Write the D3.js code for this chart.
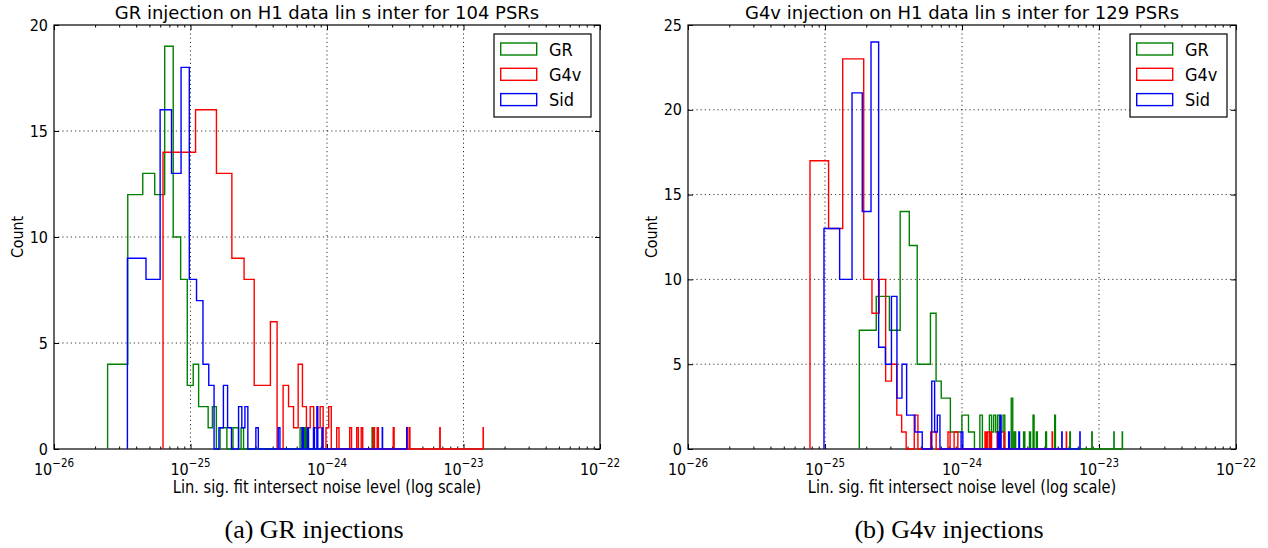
<!DOCTYPE html>
<html><head><meta charset="utf-8">
<script src="https://cdn.jsdelivr.net/npm/d3@7"></script>
<style>body{margin:0;background:#fff} svg{display:block;font-family:"DejaVu Sans",sans-serif}</style>
</head><body>
<svg id="chart" width="1268" height="548"></svg>
<script>
// ---------- DATA (bin edges in units of 1e-26, counts per bin) ----------
const UNIT = 1e-26;
const seriesNames = ["GR", "G4v", "Sid"];
const seriesColors = ["#008000", "#ff0000", "#0000ff"];
const titles = ["GR injection on H1 data lin s inter for 104 PSRs", "G4v injection on H1 data lin s inter for 129 PSRs"];
const captions = ["(a) GR injections", "(b) G4v injections"];
const xLabel = "Lin. sig. fit intersect noise level (log scale)";
const yLabel = "Count";
const xMajorExps = [-26, -25, -24, -23, -22];
const yTicksA = [0, 5, 10, 15, 20];
const yTicksB = [0, 5, 10, 15, 20, 25];

// panel (a): GR injections
const aGR_edges = [2.47, 3.47, 4.47, 5.47, 6.47, 7.47, 8.47, 9.47, 10.47, 11.47, 12.47, 13.47, 14.47, 15.47, 16.47, 17.47, 18.47, 19.47, 20.47, 21.47, 22.47, 23.47, 24.47, 63.5, 64.5, 65.5, 66.5, 67.5, 68.5, 69.5, 70.5, 214, 215];
const aGR_counts = [4, 12, 13, 12, 19, 10, 8, 3, 4, 2, 2, 1, 2, 0, 1, 1, 0, 0, 1, 1, 0, 1, 0, 1, 1, 0, 1, 1, 0, 1, 0, 1];
const aG4v_edges = [6.29, 10.89, 15.49, 20.09, 24.69, 29.29, 33.89, 38.49, 43.09, 47.69, 52.29, 56.89, 61.49, 66.09, 70.69, 75.29, 79.89, 84.49, 89.09, 93.69, 98.29, 102.89, 107.49, 117.8, 122.4, 146.7, 151.3, 165.1, 169.7, 178.1, 182.7, 218.2, 222.8, 233.3, 237.9, 305.7, 310.3, 384.0, 388.6, 400.5, 405.1, 670.4, 675.0, 1392.4, 1397.0];
const aG4v_counts = [14, 16, 13, 9, 8, 3, 3, 6, 0, 3, 2, 1, 4, 2, 1, 2, 1, 1, 2, 0, 1, 2, 0, 1, 0, 1, 0, 1, 0, 1, 0, 1, 0, 1, 0, 1, 0, 1, 0, 1, 0, 1, 0, 1];
const aSid_edges = [3.45, 4.72, 5.99, 7.26, 8.53, 9.80, 11.07, 12.34, 13.61, 14.88, 16.15, 17.42, 18.69, 19.96, 22.50, 23.77, 25.04, 26.31, 30.12, 31.39, 43.9, 45.2, 65.8, 67.1, 71.9, 73.2, 79.6, 80.9, 84.3, 85.6, 91.8, 93.1, 254.0, 255.3, 383.5, 384.8];
const aSid_counts = [9, 8, 16, 13, 18, 8, 7, 4, 3, 0, 1, 3, 1, 0, 2, 1, 2, 0, 1, 0, 1, 0, 1, 0, 1, 0, 1, 0, 2, 0, 1, 0, 1, 0, 1];

// panel (b): G4v injections
const bGR_edges = [17.8, 23.66, 29.52, 35.38, 41.24, 47.1, 52.96, 58.82, 64.68, 70.54, 76.4, 82.26, 88.12, 93.98, 99.84, 105.7, 111.56, 117.42, 123.28, 135.0, 140.86, 158.44, 164.3, 170.16, 176.02, 181.88, 187.74, 193.6, 199.46, 205.32, 228.76, 234.62, 240.48, 246.34, 281.5, 287.36, 310.8, 316.66, 330.0, 335.86, 349.0, 354.86, 408.0, 413.86, 475.0, 480.86, 612.0, 617.86, 886.0, 891.86, 1284.0, 1289.86, 1478.1, 1483.96];
const bGR_counts = [7, 9, 7, 14, 12, 5, 5, 8, 4, 3, 3, 1, 1, 1, 2, 2, 1, 1, 0, 2, 0, 2, 1, 2, 1, 2, 1, 1, 2, 0, 3, 0, 1, 0, 1, 0, 1, 0, 2, 0, 1, 0, 1, 0, 2, 0, 1, 0, 1, 0, 1, 0, 1];
const bG4v_edges = [7.77, 10.62, 13.47, 16.32, 19.17, 22.02, 24.87, 27.72, 30.57, 33.42, 36.27, 39.12, 44.82, 47.67, 59.07, 64.77, 79.02, 81.87, 87.57, 93.27, 147.2, 150.05, 152.9, 158.6, 161.45, 164.3, 180.5, 183.35, 202.0, 204.85, 455.0, 457.85, 577.0, 579.85];
const bG4v_counts = [17, 13, 23, 23, 10, 8, 10, 4, 5, 2, 1, 0, 2, 0, 1, 0, 1, 0, 1, 0, 1, 0, 1, 0, 1, 0, 1, 0, 1, 0, 1, 0, 1];
const bSid_edges = [9.83, 12.79, 15.75, 18.71, 21.67, 24.63, 27.59, 30.55, 33.51, 36.47, 39.43, 42.39, 45.35, 48.31, 51.27, 60.15, 63.11, 66.07, 69.03, 98.5, 101.46, 183.0, 185.96, 190.0, 192.96, 219.0, 221.96, 260.0, 262.96, 535.0, 537.96, 725.0, 727.96];
const bSid_counts = [13, 10, 21, 14, 24, 6, 5, 9, 3, 5, 2, 2, 1, 1, 0, 4, 1, 2, 0, 1, 0, 1, 0, 2, 0, 1, 0, 1, 0, 1, 0, 1];

// ---------- LAYOUT ----------
const panels = [
  { x0: 54, x1: 600, y0: 25, y1: 449, ymax: 20, yTicks: yTicksA, title: titles[0], caption: captions[0],
    series: [[aGR_edges, aGR_counts], [aG4v_edges, aG4v_counts], [aSid_edges, aSid_counts]] },
  { x0: 688, x1: 1236, y0: 25, y1: 449, ymax: 25, yTicks: yTicksB, title: titles[1], caption: captions[1],
    series: [[bGR_edges, bGR_counts], [bG4v_edges, bG4v_counts], [bSid_edges, bSid_counts]] }
];

const svg = d3.select("#chart");
svg.append("rect").attr("width", 1268).attr("height", 548).attr("fill", "#fff");

function txt(g, x, y, s, size, anchor, sx, extra) {
  const t = g.append("text").attr("transform", `translate(${x},${y}) scale(${sx},1)`)
    .attr("font-size", size).attr("text-anchor", anchor).attr("fill", "#000").text(s);
  if (extra) extra(t);
  return t;
}

panels.forEach(p => {
  const g = svg.append("g");
  const x = d3.scaleLog().domain([1e-26, 1e-22]).range([p.x0, p.x1]);
  const y = d3.scaleLinear().domain([0, p.ymax]).range([p.y1, p.y0]);
  const majors = xMajorExps.map(e => Math.pow(10, e));
  const minors = x.ticks().filter(v => !majors.some(m => Math.abs(v / m - 1) < 1e-6));

  // grid
  g.append("g").selectAll("line").data(majors.slice(1, -1)).join("line")
    .attr("x1", d => x(d)).attr("x2", d => x(d)).attr("y1", p.y0).attr("y2", p.y1)
    .attr("stroke", "#000").attr("stroke-width", 0.8).attr("stroke-dasharray", "1.2,3");
  g.append("g").selectAll("line").data(p.yTicks.slice(1, -1)).join("line")
    .attr("y1", d => y(d)).attr("y2", d => y(d)).attr("x1", p.x0).attr("x2", p.x1)
    .attr("stroke", "#000").attr("stroke-width", 0.8).attr("stroke-dasharray", "1.2,3");

  // ticks (inward, all four sides)
  const tick = (axis, tx, ty) => {
    const a = g.append("g").attr("transform", `translate(${tx},${ty})`).call(axis);
    a.select(".domain").remove();
    a.selectAll("text").remove();
    a.selectAll("line").attr("stroke", "#000").attr("stroke-width", 1);
  };
  tick(d3.axisBottom(x).tickValues(majors).tickSize(-5).tickSizeOuter(0), 0, p.y1);
  tick(d3.axisBottom(x).tickValues(minors).tickSize(-2.5).tickSizeOuter(0), 0, p.y1);
  tick(d3.axisTop(x).tickValues(majors).tickSize(-5).tickSizeOuter(0), 0, p.y0);
  tick(d3.axisTop(x).tickValues(minors).tickSize(-2.5).tickSizeOuter(0), 0, p.y0);
  tick(d3.axisLeft(y).tickValues(p.yTicks).tickSize(-5).tickSizeOuter(0), p.x0, 0);
  tick(d3.axisRight(y).tickValues(p.yTicks).tickSize(-5).tickSizeOuter(0), p.x1, 0);

  // frame
  g.append("rect").attr("x", p.x0).attr("y", p.y0).attr("width", p.x1 - p.x0).attr("height", p.y1 - p.y0)
    .attr("fill", "none").attr("stroke", "#000").attr("stroke-width", 1.2);

  // histograms (step outlines)
  p.series.forEach(([edges, counts], i) => {
    const pts = [[x(edges[0] * UNIT), y(0)]];
    counts.forEach((c, k) => {
      pts.push([x(edges[k] * UNIT), y(c)]);
      pts.push([x(edges[k + 1] * UNIT), y(c)]);
    });
    pts.push([x(edges[edges.length - 1] * UNIT), y(0)]);
    g.append("path").attr("d", d3.line()(pts)).attr("fill", "none")
      .attr("stroke", seriesColors[i]).attr("stroke-width", 1.4).attr("stroke-linejoin", "miter");
  });

  // y tick labels
  p.yTicks.forEach(v => txt(g, p.x0 - 6, y(v) + 5.5, String(v), 16, "end", 0.9));
  // x tick labels 10^e
  xMajorExps.forEach(e => {
    const t = g.append("text").attr("transform", `translate(${x(Math.pow(10, e))},${p.y1 + 26}) scale(0.9,1)`)
      .attr("text-anchor", "middle").attr("font-size", 16).attr("fill", "#000");
    t.append("tspan").text("10");
    t.append("tspan").attr("dy", -8).attr("font-size", 11.5).text("\u2212" + Math.abs(e));
  });

  // labels
  const cx = (p.x0 + p.x1) / 2;
  txt(g, cx, 19, p.title, 18, "middle", 1.0);
  txt(g, cx, p.y1 + 44, xLabel, 17, "middle", 0.86);
  g.append("text").attr("transform", `translate(${p.x0 - 31},${(p.y0 + p.y1) / 2}) rotate(-90) scale(0.95,1)`)
    .attr("text-anchor", "middle").attr("font-size", 15).attr("fill", "#000").text(yLabel);
  txt(g, cx - 13, 538, p.caption, 26, "middle", 1, t => t.attr("font-family", "'Liberation Serif','DejaVu Serif',serif"));

  // legend
  const lx = p.x1 - 106, ly = 34;
  const lg = g.append("g").attr("transform", `translate(${lx},${ly})`);
  lg.append("rect").attr("width", 97).attr("height", 83).attr("fill", "#fff").attr("stroke", "#000").attr("stroke-width", 1.2);
  seriesNames.forEach((n, i) => {
    lg.append("rect").attr("x", 6.7).attr("y", 9 + i * 25.3).attr("width", 36).attr("height", 12)
      .attr("fill", "#fff").attr("stroke", seriesColors[i]).attr("stroke-width", 1.4);
    txt(lg, 55, 21.5 + i * 25.3, n, 18, "start", 0.9);
  });
});
</script>
</body></html>
